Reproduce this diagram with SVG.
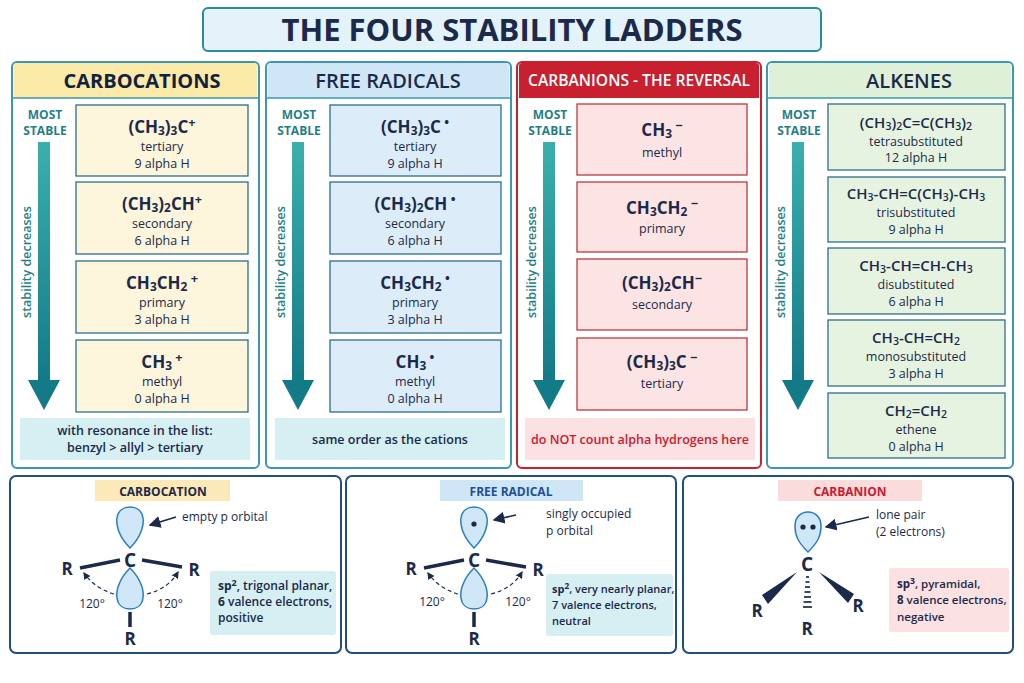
<svg xmlns="http://www.w3.org/2000/svg" width="1024" height="683" viewBox="0 0 1024 683">
<defs>
<style>
text{font-family:"Open Sans","Noto Sans","Liberation Sans",sans-serif;fill:#1b2a4a;text-anchor:middle}
.f{font-size:17px;font-weight:700}
.n{font-size:12.5px}
.ms{font-size:12px;font-weight:700;fill:#1f7f86}
.sd{font-size:12.5px;font-weight:600;fill:#1f7f86}
.hd{font-size:20px;font-weight:700}
.b1{fill:#fdf5dc;stroke:#2a6f8a;stroke-width:1.3}
.b2{fill:#dcedf9;stroke:#2a6f8a;stroke-width:1.3}
.b3{fill:#fce4e4;stroke:#b73a44;stroke-width:1.3}
.b4{fill:#e7f3e1;stroke:#2a6f8a;stroke-width:1.3}
.pan{fill:#fff;stroke:#1f4f7a;stroke-width:2}
.lobe{fill:#cfe7f6;stroke:#2a7fc0;stroke-width:1.5}
.bond{stroke:#1b2a4a;stroke-width:3.5}
.dash{fill:none;stroke:#1b2a4a;stroke-width:1.2;stroke-dasharray:4 3}
.R{font-size:17px;font-weight:700}
.lab{font-size:12px;text-anchor:start}
.sm{font-size:12px;text-anchor:start}
.s{font-size:70%;baseline-shift:-20%}
.p{font-size:75%;baseline-shift:45%}
</style>
<linearGradient id="ar" x1="0" y1="0" x2="0" y2="1"><stop offset="0" stop-color="#3ab0ad"/><stop offset="1" stop-color="#137a88"/></linearGradient>
<marker id="ah" markerWidth="8" markerHeight="8" refX="7" refY="4" orient="auto"><path d="M0,0 L8,4 L0,8 z" fill="#1b2a4a"/></marker>
<marker id="sa" markerWidth="6" markerHeight="6" refX="5" refY="3" orient="auto"><path d="M0,0 L6,3 L0,6 z" fill="#1b2a4a"/></marker>
<g id="arrow"><rect x="38" y="142" width="12" height="240" fill="url(#ar)"/><path d="M28,380 L60,380 L44,410 z" fill="#137a88"/></g>
</defs>
<rect width="1024" height="683" fill="#fff"/>

<g id="title"><rect x="203" y="8" width="618" height="43" rx="5" fill="#e3f3f9" stroke="#2a8aa0" stroke-width="2"/><text x="512" y="41" style="font-size:31px;font-weight:700">THE FOUR STABILITY LADDERS</text></g>

<g id="col-carbocations">
<rect x="12" y="62" width="247" height="406" rx="5" fill="#fff" stroke="#3a9aab" stroke-width="2"/>
<path d="M14,98 V66 a3,3 0 0 1 3,-3 H254 a3,3 0 0 1 3,3 V98 z" fill="#fbe9a8"/>
<line x1="12" y1="98" x2="259" y2="98" stroke="#3a9aab" stroke-width="1.5"/>
<text x="142" y="88" class="hd" style="fill:#10223f">CARBOCATIONS</text>
<text x="45" y="119" class="ms">MOST</text><text x="45" y="135" class="ms">STABLE</text>
<use href="#arrow"/>
<text transform="translate(31,262) rotate(-90)" class="sd">stability decreases</text>
<rect x="76" y="105" width="172" height="71" class="b1"/>
<text x="162" y="133" class="f">(CH<tspan class="s">3</tspan>)<tspan class="s">3</tspan>C<tspan class="p">+</tspan></text>
<text x="162" y="151" class="n">tertiary</text><text x="162" y="168" class="n">9 alpha H</text>
<rect x="76" y="182" width="172" height="72" class="b1"/>
<text x="162" y="210" class="f">(CH<tspan class="s">3</tspan>)<tspan class="s">2</tspan>CH<tspan class="p">+</tspan></text>
<text x="162" y="228" class="n">secondary</text><text x="162" y="245" class="n">6 alpha H</text>
<rect x="76" y="261" width="172" height="72" class="b1"/>
<text x="162" y="289" class="f">CH<tspan class="s">3</tspan>CH<tspan class="s">2</tspan><tspan class="p"> +</tspan></text>
<text x="162" y="307" class="n">primary</text><text x="162" y="324" class="n">3 alpha H</text>
<rect x="76" y="340" width="172" height="72" class="b1"/>
<text x="162" y="368" class="f">CH<tspan class="s">3</tspan><tspan class="p"> +</tspan></text>
<text x="162" y="386" class="n">methyl</text><text x="162" y="403" class="n">0 alpha H</text>
<rect x="20" y="418" width="230" height="42" fill="#d5eff2"/>
<text x="135" y="435" class="n" style="font-weight:600">with resonance in the list:</text>
<text x="135" y="452" class="n" style="font-weight:600">benzyl &gt; allyl &gt; tertiary</text>
</g>

<g id="col-radicals">
<rect x="266" y="62" width="245" height="406" rx="5" fill="#fff" stroke="#3a9aab" stroke-width="2"/>
<path d="M268,98 V66 a3,3 0 0 1 3,-3 H506 a3,3 0 0 1 3,3 V98 z" fill="#cfe6f7"/>
<line x1="266" y1="98" x2="511" y2="98" stroke="#3a9aab" stroke-width="1.5"/>
<text x="388" y="88" class="hd" style="font-weight:600">FREE RADICALS</text>
<g transform="translate(254,0)">
<text x="45" y="119" class="ms">MOST</text><text x="45" y="135" class="ms">STABLE</text>
<use href="#arrow"/>
<text transform="translate(31,262) rotate(-90)" class="sd">stability decreases</text>
</g>
<rect x="330" y="105" width="171" height="71" class="b2"/>
<text x="415" y="133" class="f">(CH<tspan class="s">3</tspan>)<tspan class="s">3</tspan>C<tspan class="p"> •</tspan></text>
<text x="415" y="151" class="n">tertiary</text><text x="415" y="168" class="n">9 alpha H</text>
<rect x="330" y="182" width="171" height="72" class="b2"/>
<text x="415" y="210" class="f">(CH<tspan class="s">3</tspan>)<tspan class="s">2</tspan>CH<tspan class="p"> •</tspan></text>
<text x="415" y="228" class="n">secondary</text><text x="415" y="245" class="n">6 alpha H</text>
<rect x="330" y="261" width="171" height="72" class="b2"/>
<text x="415" y="289" class="f">CH<tspan class="s">3</tspan>CH<tspan class="s">2</tspan><tspan class="p"> •</tspan></text>
<text x="415" y="307" class="n">primary</text><text x="415" y="324" class="n">3 alpha H</text>
<rect x="330" y="340" width="171" height="72" class="b2"/>
<text x="415" y="368" class="f">CH<tspan class="s">3</tspan><tspan class="p"> •</tspan></text>
<text x="415" y="386" class="n">methyl</text><text x="415" y="403" class="n">0 alpha H</text>
<rect x="275" y="418" width="230" height="42" fill="#d5eff2"/>
<text x="390" y="444" class="n" style="font-weight:600">same order as the cations</text>
</g>

<g id="col-carbanions">
<rect x="517" y="62" width="244" height="406" rx="5" fill="#fff" stroke="#c8202f" stroke-width="2"/>
<path d="M519,98 V66 a3,3 0 0 1 3,-3 H756 a3,3 0 0 1 3,3 V98 z" fill="#c8202f"/>
<text x="639" y="86" class="hd" style="fill:#fff;font-size:16px;font-weight:600" textLength="222" lengthAdjust="spacingAndGlyphs">CARBANIONS - THE REVERSAL</text>
<g transform="translate(505,0)">
<text x="45" y="119" class="ms">MOST</text><text x="45" y="135" class="ms">STABLE</text>
<use href="#arrow"/>
<text transform="translate(31,262) rotate(-90)" class="sd">stability decreases</text>
</g>
<rect x="577" y="104" width="170" height="71" class="b3"/>
<text x="662" y="136" class="f">CH<tspan class="s">3</tspan><tspan class="p"> −</tspan></text>
<text x="662" y="157" class="n">methyl</text>
<rect x="577" y="182" width="170" height="70" class="b3"/>
<text x="662" y="214" class="f">CH<tspan class="s">3</tspan>CH<tspan class="s">2</tspan><tspan class="p"> −</tspan></text>
<text x="662" y="233" class="n">primary</text>
<rect x="577" y="259" width="170" height="71" class="b3"/>
<text x="662" y="289" class="f">(CH<tspan class="s">3</tspan>)<tspan class="s">2</tspan>CH<tspan class="p">−</tspan></text>
<text x="662" y="309" class="n">secondary</text>
<rect x="577" y="338" width="170" height="72" class="b3"/>
<text x="662" y="368" class="f">(CH<tspan class="s">3</tspan>)<tspan class="s">3</tspan>C<tspan class="p"> −</tspan></text>
<text x="662" y="388" class="n">tertiary</text>
<rect x="525" y="418" width="230" height="42" fill="#fbe1e1"/>
<text x="640" y="444" class="n" style="fill:#c8202f;font-weight:600">do NOT count alpha hydrogens here</text>
</g>

<g id="col-alkenes">
<rect x="767" y="62" width="246" height="406" rx="5" fill="#fff" stroke="#3a9aab" stroke-width="2"/>
<path d="M769,98 V66 a3,3 0 0 1 3,-3 H1008 a3,3 0 0 1 3,3 V98 z" fill="#dff0d8"/>
<line x1="767" y1="98" x2="1013" y2="98" stroke="#3a9aab" stroke-width="1.5"/>
<text x="909" y="88" class="hd" style="font-weight:600">ALKENES</text>
<g transform="translate(754,0)">
<text x="45" y="119" class="ms">MOST</text><text x="45" y="135" class="ms">STABLE</text>
<use href="#arrow"/>
<text transform="translate(31,262) rotate(-90)" class="sd">stability decreases</text>
</g>
<rect x="828" y="104" width="177" height="66" class="b4"/>
<text x="916" y="128" class="f" style="font-size:15px;font-weight:600">(CH<tspan class="s">3</tspan>)<tspan class="s">2</tspan>C=C(CH<tspan class="s">3</tspan>)<tspan class="s">2</tspan></text>
<text x="916" y="146" class="n">tetrasubstituted</text><text x="916" y="162" class="n">12 alpha H</text>
<rect x="828" y="177" width="177" height="65" class="b4"/>
<text x="916" y="199" class="f" style="font-size:15px;font-weight:600">CH<tspan class="s">3</tspan>-CH=C(CH<tspan class="s">3</tspan>)-CH<tspan class="s">3</tspan></text>
<text x="916" y="217" class="n">trisubstituted</text><text x="916" y="234" class="n">9 alpha H</text>
<rect x="828" y="248" width="177" height="66" class="b4"/>
<text x="916" y="271" class="f" style="font-size:15px;font-weight:600">CH<tspan class="s">3</tspan>-CH=CH-CH<tspan class="s">3</tspan></text>
<text x="916" y="289" class="n">disubstituted</text><text x="916" y="306" class="n">6 alpha H</text>
<rect x="828" y="320" width="177" height="66" class="b4"/>
<text x="916" y="343" class="f" style="font-size:15px;font-weight:600">CH<tspan class="s">3</tspan>-CH=CH<tspan class="s">2</tspan></text>
<text x="916" y="361" class="n">monosubstituted</text><text x="916" y="378" class="n">3 alpha H</text>
<rect x="828" y="393" width="177" height="65" class="b4"/>
<text x="916" y="416" class="f" style="font-size:15px;font-weight:600">CH<tspan class="s">2</tspan>=CH<tspan class="s">2</tspan></text>
<text x="916" y="434" class="n">ethene</text><text x="916" y="451" class="n">0 alpha H</text>
</g>

<g id="panel-carbocation">
<rect x="10" y="476" width="331" height="177" rx="6" class="pan"/>
<rect x="95" y="480" width="135" height="21" fill="#fbe9b8"/>
<text x="163" y="496" style="font-size:12px;font-weight:700">CARBOCATION</text>
<path d="M130,548 C118,536 116,524 117,518 C118,510 124,507 130,507 C136,507 142,510 143,518 C144,524 142,536 130,548 z" class="lobe"/>
<path d="M130,568 C118,580 116,592 117,598 C118,606 124,609 130,609 C136,609 142,606 143,598 C144,592 142,580 130,568 z" class="lobe"/>
<text x="130" y="567" class="R" style="font-size:19px">C</text>
<line x1="80" y1="568" x2="120" y2="560" class="bond"/>
<line x1="142" y1="560" x2="182" y2="567" class="bond"/>
<line x1="130" y1="612" x2="130" y2="627" class="bond"/>
<text x="67" y="575" class="R">R</text><text x="194" y="576" class="R">R</text><text x="130" y="645" class="R">R</text>
<path d="M114,594 C100,590 90,582 84,573" class="dash" marker-end="url(#sa)"/>
<path d="M147,594 C163,590 172,582 178,572" class="dash" marker-end="url(#sa)"/>
<text x="92" y="608" style="font-size:12px">120°</text><text x="170" y="608" style="font-size:12px">120°</text>
<line x1="176" y1="517" x2="150" y2="525" stroke="#1b2a4a" stroke-width="1.5" marker-end="url(#ah)"/>
<text x="182" y="521" class="lab">empty p orbital</text>
<rect x="210" y="571" width="126" height="64" rx="3" fill="#d5eff2"/>
<text x="218" y="590" class="sm" style="font-weight:600"><tspan font-weight="700">sp<tspan class="p" font-size="8">2</tspan></tspan>, trigonal planar,</text>
<text x="218" y="606" class="sm" style="font-weight:600"><tspan font-weight="700">6</tspan> valence electrons,</text>
<text x="218" y="622" class="sm" style="font-weight:600">positive</text>
</g>

<g id="panel-radical">
<rect x="346" y="476" width="330" height="177" rx="6" class="pan"/>
<rect x="440" y="480" width="143" height="21" fill="#cfe6f7"/>
<text x="511" y="496" style="font-size:12px;font-weight:700;fill:#1f4f9a">FREE RADICAL</text>
<g transform="translate(344,0)">
<path d="M130,548 C118,536 116,524 117,518 C118,510 124,507 130,507 C136,507 142,510 143,518 C144,524 142,536 130,548 z" class="lobe"/>
<circle cx="130" cy="524" r="2.6" fill="#1b2a4a"/>
<path d="M130,568 C118,580 116,592 117,598 C118,606 124,609 130,609 C136,609 142,606 143,598 C144,592 142,580 130,568 z" class="lobe"/>
<text x="130" y="567" class="R" style="font-size:19px">C</text>
<line x1="80" y1="568" x2="120" y2="560" class="bond"/>
<line x1="142" y1="560" x2="182" y2="567" class="bond"/>
<line x1="130" y1="612" x2="130" y2="627" class="bond"/>
<text x="67" y="575" class="R">R</text><text x="194" y="576" class="R">R</text><text x="130" y="645" class="R">R</text>
<path d="M114,594 C100,590 90,582 84,573" class="dash" marker-end="url(#sa)"/>
<path d="M147,594 C163,590 172,582 178,572" class="dash" marker-end="url(#sa)"/>
<text x="88" y="606" style="font-size:12px">120°</text><text x="174" y="606" style="font-size:12px">120°</text>
<line x1="172" y1="515" x2="150" y2="520" stroke="#1b2a4a" stroke-width="1.5" marker-end="url(#ah)"/>
</g>
<text x="546" y="518" class="lab">singly occupied</text>
<text x="546" y="535" class="lab">p orbital</text>
<rect x="546" y="574" width="127" height="62" rx="3" fill="#d5eff2"/>
<text x="552" y="593" class="sm" style="font-weight:600;font-size:11px"><tspan font-weight="700">sp<tspan class="p" font-size="8">2</tspan></tspan>, very nearly planar,</text>
<text x="552" y="609" class="sm" style="font-weight:600;font-size:11px">7 valence electrons,</text>
<text x="552" y="625" class="sm" style="font-weight:600;font-size:11px">neutral</text>
</g>

<g id="panel-carbanion">
<rect x="683" y="476" width="330" height="177" rx="6" class="pan"/>
<rect x="778" y="480" width="144" height="21" fill="#fbdcdc"/>
<text x="850" y="496" style="font-size:12px;font-weight:700;fill:#c8202f">CARBANION</text>
<path d="M808,552 C798,542 795,536 795,526 C795,517 801,512 808,512 C815,512 821,517 821,526 C821,536 818,542 808,552 z" class="lobe"/>
<circle cx="803" cy="527" r="2.6" fill="#1b2a4a"/><circle cx="813" cy="527" r="2.6" fill="#1b2a4a"/>
<text x="807" y="571" class="R" style="font-size:19px">C</text>
<path d="M797,572 L762,595 L768,604 z" fill="#1b2a4a"/>
<path d="M819,572 L854,594 L848,603 z" fill="#1b2a4a"/>
<g stroke="#1b2a4a" stroke-width="1.7">
<line x1="806" y1="577" x2="809" y2="577"/><line x1="805.5" y1="582" x2="809.5" y2="582"/><line x1="805" y1="587" x2="810" y2="587"/><line x1="804.5" y1="592" x2="810.5" y2="592"/><line x1="804" y1="597" x2="811" y2="597"/><line x1="803.5" y1="602" x2="811.5" y2="602"/><line x1="803" y1="607" x2="812" y2="607"/>
</g>
<text x="757" y="617" class="R">R</text><text x="858" y="612" class="R">R</text><text x="807" y="635" class="R">R</text>
<line x1="869" y1="517" x2="826" y2="527" stroke="#1b2a4a" stroke-width="1.5" marker-end="url(#ah)"/>
<text x="876" y="519" class="lab">lone pair</text>
<text x="876" y="536" class="lab">(2 electrons)</text>
<rect x="889" y="568" width="120" height="64" rx="3" fill="#fbe1e1"/>
<text x="897" y="588" class="sm" style="font-weight:600;font-size:11.5px"><tspan font-weight="700">sp<tspan class="p" font-size="8">3</tspan></tspan>, pyramidal,</text>
<text x="897" y="604" class="sm" style="font-weight:600;font-size:11.5px"><tspan font-weight="700">8</tspan> valence electrons,</text>
<text x="897" y="621" class="sm" style="font-weight:600;font-size:11.5px">negative</text>
</g>
</svg>
